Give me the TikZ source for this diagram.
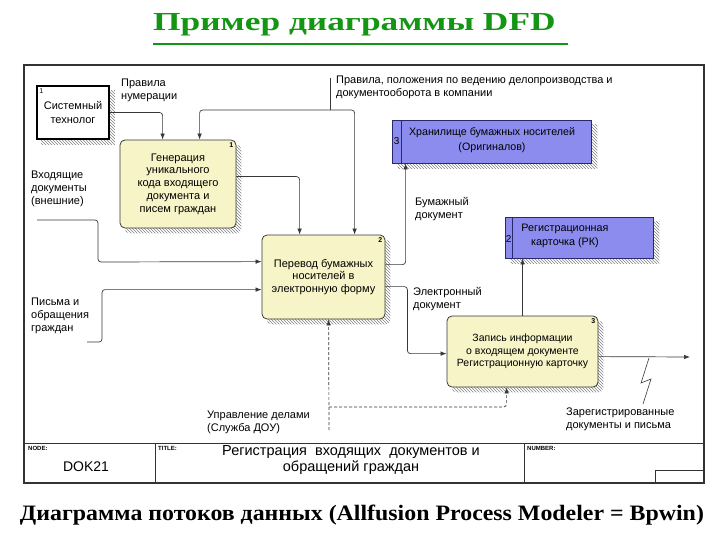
\documentclass[tikz,border=0pt]{standalone}
\usepackage{fontspec}
\setmainfont{Liberation Serif}
\newfontfamily\dsans{Liberation Sans}
\usetikzlibrary{arrows.meta,calc,patterns,backgrounds}
\definecolor{titlegreen}{RGB}{20,150,20}
\definecolor{procfill}{RGB}{247,245,200}
\definecolor{storefill}{RGB}{140,140,238}
\definecolor{storeline}{RGB}{40,40,110}
\definecolor{linegray}{RGB}{55,55,55}
\tikzset{
  proc/.style={draw=linegray, fill=procfill, rounded corners=5pt, line width=0.8pt, align=center,
    font=\dsans\fontsize{11}{12.7}\selectfont, inner sep=0pt},
  store/.style={draw=storeline, fill=storefill, line width=0.8pt, inner sep=0pt},
  flow/.style={draw=linegray, line width=0.7pt, rounded corners=3pt, -{Latex[length=6pt,width=4.5pt]}},
  ctl/.style={flow, dash pattern=on 3pt off 2pt},
  lbl/.style={font=\dsans\fontsize{11}{13}\selectfont, align=left, inner sep=0pt, anchor=north west},
  num/.style={font=\dsans\bfseries\fontsize{7}{8}\selectfont, inner sep=0pt},
  tblk/.style={font=\dsans\bfseries\fontsize{6}{7}\selectfont, inner sep=0pt, anchor=north west},
  shade/.style={pattern=north west lines, pattern color=gray},
}
\begin{document}
\begin{tikzpicture}[x=1pt,y=-1pt]
\useasboundingbox (0,0) rectangle (720,540);

% title
\node[anchor=base west, inner sep=0pt, text=titlegreen, font=\bfseries\fontsize{26}{30}\selectfont] (title) at (153,31) {\scalebox{1.36}[1]{Пример диаграммы DFD}};
\draw[titlegreen, line width=2pt] (title.base west |- 0,44) -- ++(415,0);

% frame
\draw[line width=1.3pt, black!80] (24,65) rectangle (704,483);
\draw[line width=0.8pt, black!80] (24,443) -- (704,443);
\draw[line width=0.8pt, black!80] (155,443) -- (155,483);
\draw[line width=0.8pt, black!80] (524,443) -- (524,483);
\draw[line width=0.8pt, black!80] (655,483) -- (655,470) -- (704,470);

% title block
\node[tblk] (nodel) at (28,446) {NODE:};
\node[font=\dsans\fontsize{14}{16}\selectfont] (nodev) at (86,467) {DOK21};
\node[tblk] (titlel) at (158,446) {TITLE:};
\node[font=\dsans\fontsize{14.5}{16}\selectfont, align=center] (titlev) at (351,460) {Регистрация \ входящих \ документов и\\обращений граждан};
\node[tblk] (numl) at (527,446) {NUMBER:};

% system technologist
\node[draw=black, line width=1.6pt, fill=white, minimum width=72pt, minimum height=53pt, align=center,
      font=\dsans\fontsize{11}{14}\selectfont, inner sep=0pt] (sys) at (73,112.5) {Системный\\технолог};
\node[num, anchor=north west, font=\dsans\fontsize{7}{8}\selectfont] (sysn) at ($(sys.north west)+(3,3)$) {1};

% processes
\node[proc, minimum width=116pt, minimum height=88pt] (b1) at (178,184) {Генерация\\уникального\\кода входящего\\документа и\\писем граждан};
\node[num, anchor=north east] (b1n) at ($(b1.north east)+(-3,3)$) {1};
\node[proc, minimum width=123pt, minimum height=84pt] (b2) at (323.5,277) {Перевод бумажных\\носителей в\\электронную форму};
\node[num, anchor=north east] (b2n) at ($(b2.north east)+(-3,3)$) {2};
\node[proc, minimum width=151pt, minimum height=71pt, font=\dsans\fontsize{10.5}{12.7}\selectfont] (b3) at (522.5,351.5) {Запись информации\\о входящем документе\\Регистрационную карточку};
\node[num, anchor=north east] (b3n) at ($(b3.north east)+(-3,3)$) {3};

% stores
\node[store, minimum width=199pt, minimum height=43pt] (s3) at (491.5,141.5) {};
\draw[storeline, line width=0.8pt] ($(s3.north west)+(10,0)$) -- ($(s3.south west)+(10,0)$);
\node[font=\dsans\fontsize{10}{8}\selectfont, inner sep=0pt] (s3n) at ($(s3.west)+(5,0)$) {3};
\node[font=\dsans\fontsize{10.7}{14.5}\selectfont, align=center, inner sep=0pt] (s3t) at (492,140) {Хранилище бумажных носителей\\(Оригиналов)};

\node[store, minimum width=148pt, minimum height=41pt] (s2) at (579,237.5) {};
\draw[storeline, line width=0.8pt] ($(s2.north west)+(8,0)$) -- ($(s2.south west)+(8,0)$);
\node[font=\dsans\fontsize{10}{8}\selectfont, inner sep=0pt] (s2n) at ($(s2.west)+(4,2)$) {2};
\node[font=\dsans\fontsize{10.8}{13.5}\selectfont, align=center, inner sep=0pt] (s2t) at (565,236) {Регистрационная\\карточка (РК)};

% shadows
\begin{scope}[on background layer]
  \fill[shade] ([shift={(5,5)}]sys.north west) rectangle ([shift={(5,5)}]sys.south east);
  \foreach \b in {b1,b2,b3} {
    \fill[shade, rounded corners=5pt] ([shift={(5,5)}]\b.north west) rectangle ([shift={(5,5)}]\b.south east);
  }
  \foreach \b in {s3,s2} {
    \fill[shade] ([shift={(6,5)}]\b.north west) rectangle ([shift={(6,5)}]\b.south east);
  }
\end{scope}

% labels
\node[lbl] (l1) at (121,79) {Правила\\нумерации};
\node[lbl] (l2) at (336,76) {Правила, положения по ведению делопроизводства и\\документооборота в компании};
\node[lbl] (l3) at (31,171) {Входящие\\документы\\(внешние)};
\node[lbl] (l4) at (31,298) {Письма и\\обращения\\граждан};
\node[lbl] (l5) at (415,197) {Бумажный\\документ};
\node[lbl] (l6) at (413,287) {Электронный\\документ};
\node[lbl] (l7) at (207,411) {Управление делами\\(Служба ДОУ)};
\node[lbl] (l8) at (566,408) {Зарегистрированные\\документы и письма};

% coordinates
\coordinate (ctop) at (330,78);
\coordinate (cj) at (330,110);
\coordinate (in1) at (37,220);
\coordinate (in2) at (87,342);
\coordinate (out) at (690,357);
\coordinate (dc) at (329,430);
\coordinate (dj) at (329,407);

% flows
\draw[flow] (sys.east) -| ($(b1.north west)+(43,0)$);
\draw[linegray, line width=0.7pt] (ctop) -- (cj);
\draw[flow] (cj) -| ($(b1.north west)+(80,0)$);
\draw[flow] (cj) -| ($(b2.north west)+(93,0)$);
\draw[flow] ($(b1.north east)+(0,37)$) -| ($(b2.north west)+(38,0)$);
\draw[flow] (in1) -| ++(61,42) -- ($(b2.north west)+(0,27)$);
\draw[flow] (in2) -- ++(15,0) |- ($(b2.north west)+(0,55)$);
\draw[flow] ($(b2.north east)+(0,30)$) -| ($(s3.south west)+(14,0)$);
\draw[flow] ($(b2.north east)+(0,52)$) -- ++(22,0) |- ($(b3.north west)+(0,38)$);
\draw[flow] ($(b3.north west)+(76,0)$) -- ($(s2.south west)+(18,0)$);
\draw[flow] ($(b3.north east)+(0,41)$) -- (out);
\draw[linegray, line width=0.6pt] (649,358) -- (641,383) -- (651,379) -- (643,404);
\draw[ctl] (dc) -- ($(b2.south west)+(67,0)$);
\draw[ctl] (dj) -| ($(b3.south west)+(60,0)$);

% caption
\node[font=\bfseries\fontsize{22}{26}\selectfont, inner sep=0pt] (cap) at (362,515) {\scalebox{1.085}[1]{Диаграмма потоков данных (Allfusion Process Modeler = Bpwin)}};
\end{tikzpicture}
\end{document}
